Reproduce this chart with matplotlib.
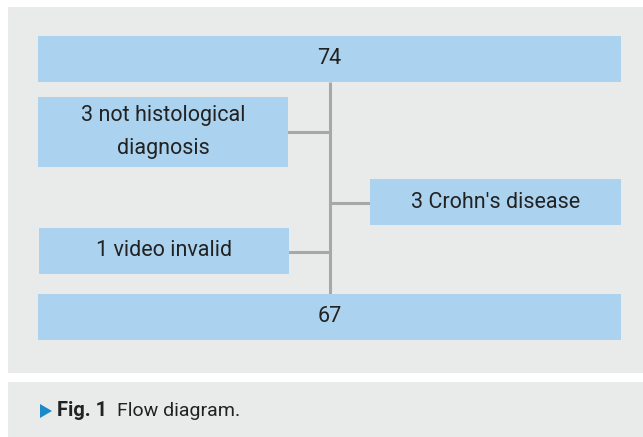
import matplotlib
matplotlib.use("Agg")
import matplotlib.pyplot as plt
from matplotlib.patches import Rectangle, Polygon

# flow diagram content
total_in = 74
total_out = 67
excluded_left = ["3 not histological\ndiagnosis", "1 video invalid"]
excluded_right = ["3 Crohn's disease"]
caption_bold = "Fig. 1"
caption_text = "Flow diagram."

# colours
panel_col = "#e9ebea"
box_col = "#abd3ef"
line_col = "#a8a8a8"
text_col = "#222222"
arrow_col = "#1a8acb"

W, H = 643, 437
fig = plt.figure(figsize=(W / 100, H / 100), dpi=100)
ax = fig.add_axes([0, 0, 1, 1])
ax.set_xlim(0, W)
ax.set_ylim(H, 0)
ax.axis("off")

font = ["Roboto", "DejaVu Sans"]


def box(x0, y0, x1, y1, label):
    ax.add_patch(Rectangle((x0, y0), x1 - x0, y1 - y0, color=box_col, lw=0, zorder=2))
    ax.text((x0 + x1) / 2, (y0 + y1) / 2, label, ha="center", va="center",
            fontsize=15.5, color=text_col, family=font, linespacing=1.7, zorder=3)


# background panels
ax.add_patch(Rectangle((8, 7), W - 8, 366, color=panel_col, lw=0, zorder=0))
ax.add_patch(Rectangle((8, 382), W - 8, H - 382, color=panel_col, lw=0, zorder=0))

# connectors
cx = 330
ax.plot([cx, cx], [82, 294], color=line_col, lw=2.2, zorder=1, solid_capstyle="butt")
ax.plot([288, cx], [132, 132], color=line_col, lw=2.2, zorder=1)
ax.plot([cx, 370], [203, 203], color=line_col, lw=2.2, zorder=1)
ax.plot([289, cx], [252, 252], color=line_col, lw=2.2, zorder=1)

# boxes
box(38, 36, 621, 82, str(total_in))
box(38, 97, 288, 167, excluded_left[0])
box(370, 179, 621, 225, excluded_right[0])
box(39, 228, 289, 274, excluded_left[1])
box(38, 294, 621, 340, str(total_out))

# caption
ax.add_patch(Polygon([[40, 404], [40, 418], [52, 411]], color=arrow_col, lw=0, zorder=3))
ax.text(57, 411, caption_bold, ha="left", va="center", fontsize=14.5,
        fontweight="bold", color=text_col, family=font)
ax.text(117, 411, caption_text, ha="left", va="center", fontsize=14,
        color=text_col, family=font)

fig.savefig("out.png", dpi=100)
